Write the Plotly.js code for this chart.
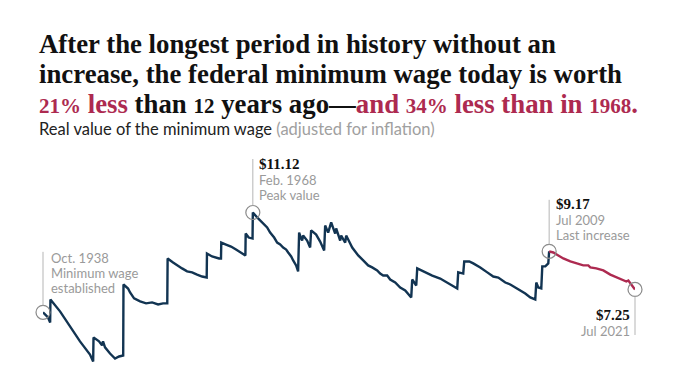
<!DOCTYPE html>
<html>
<head>
<meta charset="utf-8">
<script src="https://cdn.plot.ly/plotly-3.0.1.min.js"></script>
<style>html,body{margin:0;padding:0;background:#fff;}#chart{width:680px;height:382px;}</style>
</head>
<body>
<div id="chart"></div>
<script>
// Real value of the federal minimum wage (2021 dollars)
const histYears = [1938.75,1939.45,1939.75,1939.79,1941.13,1942.53,1943.92,1945.32,1945.76,1945.81,1946.58,1947.0,1947.14,1947.42,1948.12,1948.82,1949.38,1949.96,1950.0,1950.64,1950.92,1951.48,1952.32,1953.16,1954.0,1954.84,1955.53,1956.12,1956.17,1956.93,1957.49,1958.19,1958.89,1959.59,1960.29,1960.99,1961.63,1961.67,1962.38,1962.8,1963.36,1963.63,1963.67,1964.33,1965.03,1965.73,1966.43,1967.04,1967.08,1967.5,1968.04,1968.08,1968.82,1969.52,1970.08,1970.5,1971.06,1971.48,1971.9,1972.32,1972.74,1973.02,1973.44,1973.72,1974.13,1974.41,1974.55,1974.83,1974.97,1975.11,1975.67,1976.09,1976.23,1976.93,1977.49,1978.05,1978.19,1978.61,1979.03,1979.59,1979.73,1980.29,1980.43,1980.99,1981.13,1981.69,1981.97,1982.39,1982.81,1983.51,1984.2,1984.76,1985.46,1985.88,1986.3,1986.86,1987.28,1987.98,1988.68,1989.38,1990.22,1990.36,1990.92,1991.06,1992.18,1993.16,1994.27,1995.25,1996.09,1996.65,1996.79,1997.49,1997.63,1998.33,1998.89,1999.87,2000.85,2001.69,2002.39,2002.95,2003.37,2004.07,2004.77,2005.46,2006.16,2006.86,2007.56,2007.7,2007.98,2008.4,2008.54,2008.96,2009.38,2009.5];
const histWage = [6.10,5.84,5.59,6.75,6.15,5.39,4.64,3.98,3.63,4.84,4.64,4.44,4.64,4.34,4.03,3.78,3.88,3.93,7.50,7.30,7.10,6.80,6.65,6.55,6.60,6.50,6.55,6.55,8.81,8.61,8.46,8.31,8.16,8.11,8.00,7.90,7.85,9.06,8.91,8.86,8.81,8.81,9.61,9.51,9.41,9.26,9.11,8.96,10.06,9.86,9.81,11.12,10.82,10.57,10.37,10.11,9.86,9.61,9.51,9.36,9.26,9.11,8.91,8.71,8.46,8.16,10.11,9.81,9.71,9.96,9.71,9.36,10.22,10.01,9.66,9.21,10.47,10.11,10.62,10.06,10.32,9.71,9.96,9.61,9.96,9.56,9.36,9.16,8.96,8.71,8.46,8.36,8.21,8.05,7.95,7.95,7.75,7.60,7.35,7.20,6.85,7.75,7.45,8.31,8.11,7.95,7.80,7.60,7.45,7.30,8.11,8.05,8.66,8.66,8.56,8.36,8.11,7.90,7.85,7.70,7.60,7.50,7.35,7.20,7.05,6.85,6.75,7.60,7.35,7.30,8.41,8.41,8.56,9.17];
const recentYears = [2009.5,2010.08,2010.78,2011.48,2012.46,2013.44,2014.27,2014.97,2015.25,2016.09,2017.07,2018.05,2019.03,2019.73,2020.29,2020.57,2020.99,2021.5];
const recentWage = [9.17,9.11,8.96,8.81,8.66,8.56,8.46,8.46,8.36,8.31,8.21,8.00,7.85,7.75,7.65,7.70,7.50,7.25];

const keyYears = [1938.75, 1968.08, 2009.5, 2021.5];
const keyWage = [6.10, 11.12, 9.17, 7.25];
const keyValueLabels = ['', '$11.12', '$9.17', '$7.25'];
const keyDateLabels = ['Oct. 1938', 'Feb. 1968', 'Jul 2009', 'Jul 2021'];
const keyNotes = ['Minimum wage<br>established', 'Peak value', 'Last increase', ''];

const NAVY = '#123452', RED = '#ad2a50', GREY = '#9a9a9a';
const SERIF = 'Liberation Serif';
const SANS = 'Lato';

const traces = [
  {x: histYears, y: histWage, type: 'scatter', mode: 'lines', line: {color: NAVY, width: 2.4}, hoverinfo: 'skip', cliponaxis: false},
  {x: recentYears, y: recentWage, type: 'scatter', mode: 'lines', line: {color: RED, width: 2.4}, hoverinfo: 'skip', cliponaxis: false},
  {x: keyYears, y: keyWage, type: 'scatter', mode: 'markers', cliponaxis: false, hoverinfo: 'skip',
   marker: {symbol: 'circle-open', size: 14, color: '#8a8a8a', line: {width: 1.2, color: '#8a8a8a'}}}
];

const ann = [];
function txt(x, y, text, font, xanchor, xshift, yshift) {
  ann.push({x: x, y: y, xref: 'x', yref: 'y', text: text, showarrow: false, xanchor: xanchor, yanchor: 'middle',
            xshift: xshift, yshift: yshift, font: font, align: xanchor === 'right' ? 'right' : 'left'});
}
function leader(x, y, ay) {
  ann.push({x: x, y: y, xref: 'x', yref: 'y', text: '', showarrow: true, arrowhead: 0, arrowwidth: 1,
            arrowcolor: '#b5b5b5', ax: 0, ay: ay, standoff: 7});
}
const valFont = {family: SERIF, size: 15, color: '#111', weight: 'bold'};
const dateFont = {family: SANS, size: 13, color: GREY};

// Oct 1938
leader(keyYears[0], keyWage[0], -62);
txt(keyYears[0], keyWage[0], keyDateLabels[0], dateFont, 'left', 6, 54);
txt(keyYears[0], keyWage[0], 'Minimum wage', dateFont, 'left', 6, 39);
txt(keyYears[0], keyWage[0], 'established', dateFont, 'left', 6, 24);
// Feb 1968
leader(keyYears[1], keyWage[1], -55);
txt(keyYears[1], keyWage[1], keyValueLabels[1], valFont, 'left', 4, 49);
txt(keyYears[1], keyWage[1], keyDateLabels[1], dateFont, 'left', 4, 33);
txt(keyYears[1], keyWage[1], keyNotes[1], dateFont, 'left', 4, 18);
// Jul 2009
leader(keyYears[2], keyWage[2], -53);
txt(keyYears[2], keyWage[2], keyValueLabels[2], valFont, 'left', 5, 47);
txt(keyYears[2], keyWage[2], keyDateLabels[2], dateFont, 'left', 5, 31);
txt(keyYears[2], keyWage[2], keyNotes[2], dateFont, 'left', 5, 16);
// Jul 2021
leader(keyYears[3], keyWage[3], 47);
txt(keyYears[3], keyWage[3], keyValueLabels[3], valFont, 'right', -3, -26);
txt(keyYears[3], keyWage[3], keyDateLabels[3], dateFont, 'right', -3, -42);

// Headline and subtitle
const titleFont = {family: SERIF, size: 26.8, color: '#111', weight: 'bold'};
function head(y, text, font) {
  ann.push({xref: 'paper', yref: 'paper', x: 0, y: y, xanchor: 'left', yanchor: 'middle', xshift: -6,
            showarrow: false, text: text, font: font, align: 'left'});
}
// old-style-looking (smaller) numerals in the last headline line
function num(s) { return '<span style="font-size:21px">' + s + '</span>'; }
const layout = {
  width: 680, height: 382,
  margin: {l: 43, r: 45, t: 195, b: 8},
  paper_bgcolor: '#fff', plot_bgcolor: '#fff',
  showlegend: false,
  xaxis: {range: [1938.75, 2021.5], visible: false, fixedrange: true},
  yaxis: {range: [3, 12], visible: false, fixedrange: true},
  annotations: ann
};
// paper y: plot area spans y pixel 195..374 (height 179)
function py(pix) { return (374 - pix) / 179; }
head(py(44), 'After the longest period in history without an', titleFont);
head(py(74), 'increase, the federal minimum wage today is worth', titleFont);
head(py(104), '<span style="color:' + RED + '">' + num('21%') + ' less</span> than ' + num('12') + ' years ago—<span style="color:' + RED + '">and ' + num('34%') + ' less than in ' + num('1968') + '.</span>', titleFont);
head(py(129), 'Real value of the minimum wage <span style="color:#a0a0a0">(adjusted for inflation)</span>', {family: SANS, size: 16.5, color: '#222'});

Plotly.newPlot('chart', traces, layout, {displayModeBar: false, staticPlot: true});
</script>
</body>
</html>
